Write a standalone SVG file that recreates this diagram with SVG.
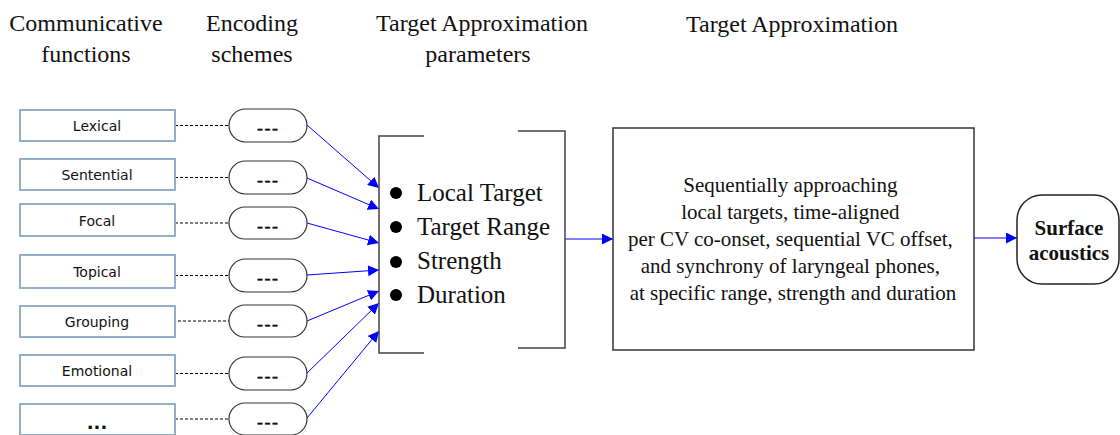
<svg xmlns="http://www.w3.org/2000/svg" width="1120" height="435" viewBox="0 0 1120 435">
<style>
.hdr{font-family:"Liberation Serif","Times New Roman",serif;font-size:24px;fill:#111;text-anchor:middle}
.fn rect{fill:#fff;stroke:#93aecb;stroke-width:2}
.fn text{font-family:"DejaVu Sans",Verdana,sans-serif;font-size:14px;fill:#111;text-anchor:middle}
.enc rect{fill:#fff;stroke:#333;stroke-width:1.2}
.enc text{font-family:"DejaVu Sans",Verdana,sans-serif;font-size:18px;fill:#111;stroke:#111;stroke-width:0.4;text-anchor:middle;letter-spacing:1px}
.dash{stroke:#000;stroke-width:1;stroke-dasharray:3 2;fill:none}
.blue{stroke:#0000ff;stroke-width:1;fill:none;marker-end:url(#ah)}
.br{stroke:#444;stroke-width:1.5;fill:none}
.serif{font-family:"Liberation Serif","Times New Roman",serif;fill:#111}
</style>
<defs>
<marker id="ah" viewBox="0 0 10 10" refX="10" refY="5" markerWidth="11" markerHeight="11" markerUnits="userSpaceOnUse" orient="auto">
<path d="M0,0 L10,5 L0,10 z" fill="#0000ff"/>
</marker>
</defs>

<g id="headers">
<text class="hdr" x="86" y="31">Communicative</text>
<text class="hdr" x="86" y="62">functions</text>
<text class="hdr" x="252" y="31">Encoding</text>
<text class="hdr" x="252" y="62">schemes</text>
<text class="hdr" x="482" y="31">Target Approximation</text>
<text class="hdr" x="478" y="62">parameters</text>
<text class="hdr" x="792" y="32">Target Approximation</text>
</g>

<g id="connectors">
<line class="dash" x1="175" y1="125.5" x2="229" y2="125.5"/>
<line class="dash" x1="175" y1="177.5" x2="229" y2="177.5"/>
<line class="dash" x1="175" y1="223" x2="229" y2="223"/>
<line class="dash" x1="175" y1="275.5" x2="229" y2="275.5"/>
<line class="dash" x1="178" y1="321" x2="229" y2="321"/>
<line class="dash" x1="175" y1="373.5" x2="229" y2="373.5"/>
<line class="dash" x1="175" y1="419" x2="229" y2="419"/>
<line class="blue" x1="307" y1="125" x2="379" y2="188"/>
<line class="blue" x1="307" y1="178" x2="379" y2="209"/>
<line class="blue" x1="307" y1="223" x2="379" y2="243"/>
<line class="blue" x1="307" y1="275" x2="379" y2="270"/>
<line class="blue" x1="307" y1="321" x2="379" y2="291"/>
<line class="blue" x1="307" y1="373" x2="379" y2="303"/>
<line class="blue" x1="307" y1="418" x2="379" y2="331"/>
<line class="blue" x1="565" y1="239" x2="613" y2="239"/>
<line class="blue" x1="974" y1="238" x2="1017" y2="238"/>
</g>

<g id="fn-lexical" class="fn"><rect x="20" y="110" width="155" height="31"/><text x="97" y="131">Lexical</text></g>
<g id="fn-sentential" class="fn"><rect x="20" y="159" width="155" height="31"/><text x="97" y="180">Sentential</text></g>
<g id="fn-focal" class="fn"><rect x="20" y="204" width="155" height="32"/><text x="97" y="225.5">Focal</text></g>
<g id="fn-topical" class="fn"><rect x="20" y="255" width="155" height="33"/><text x="97" y="277">Topical</text></g>
<g id="fn-grouping" class="fn"><rect x="20" y="306" width="155" height="31"/><text x="97" y="327">Grouping</text></g>
<g id="fn-emotional" class="fn"><rect x="20" y="355" width="155" height="31"/><text x="97" y="376">Emotional</text></g>
<g id="fn-more" class="fn"><rect x="20" y="404" width="155" height="31"/><text x="97" y="429" style="font-size:18px;font-weight:bold">...</text></g>

<g id="enc-1" class="enc"><rect x="229" y="109" width="78" height="33" rx="16.5"/><text x="268" y="134">---</text></g>
<g id="enc-2" class="enc"><rect x="229" y="161" width="78" height="33" rx="16.5"/><text x="268" y="186">---</text></g>
<g id="enc-3" class="enc"><rect x="229" y="207" width="78" height="32" rx="16"/><text x="268" y="232">---</text></g>
<g id="enc-4" class="enc"><rect x="229" y="259" width="78" height="33" rx="16.5"/><text x="268" y="284">---</text></g>
<g id="enc-5" class="enc"><rect x="229" y="305" width="78" height="32" rx="16"/><text x="268" y="330">---</text></g>
<g id="enc-6" class="enc"><rect x="229" y="357" width="78" height="33" rx="16.5"/><text x="268" y="382">---</text></g>
<g id="enc-7" class="enc"><rect x="229" y="403" width="78" height="32" rx="16"/><text x="268" y="428">---</text></g>

<g id="ta-params">
<path class="br" d="M424,136 H379 V353 H424"/>
<path class="br" d="M518,131 H565 V348 H518"/>
<circle cx="396" cy="193" r="6" fill="#000"/>
<circle cx="396" cy="227" r="6" fill="#000"/>
<circle cx="396" cy="262" r="6" fill="#000"/>
<circle cx="396" cy="295" r="6" fill="#000"/>
<text class="serif" x="417" y="201" font-size="25">Local Target</text>
<text class="serif" x="417" y="235" font-size="25">Target Range</text>
<text class="serif" x="417" y="269" font-size="25">Strength</text>
<text class="serif" x="417" y="303" font-size="25">Duration</text>
</g>

<g id="ta-process">
<rect x="613" y="128" width="361" height="222" fill="#fff" stroke="#333" stroke-width="1.5"/>
<text class="serif" font-size="21" text-anchor="middle">
<tspan x="793" y="192">Sequentially approaching</tspan>
<tspan x="793" y="219">local targets, time-aligned</tspan>
<tspan x="793" y="246">per CV co-onset, sequential VC offset,</tspan>
<tspan x="793" y="273">and synchrony of laryngeal phones,</tspan>
<tspan x="793" y="300">at specific range, strength and duration</tspan>
</text>
</g>

<g id="surface">
<rect x="1017" y="195" width="102" height="89" rx="25" fill="#fff" stroke="#222" stroke-width="1.5"/>
<text class="serif" font-size="21" font-weight="bold" text-anchor="middle"><tspan x="1069" y="235">Surface</tspan><tspan x="1069" y="260">acoustics</tspan></text>
</g>
</svg>
